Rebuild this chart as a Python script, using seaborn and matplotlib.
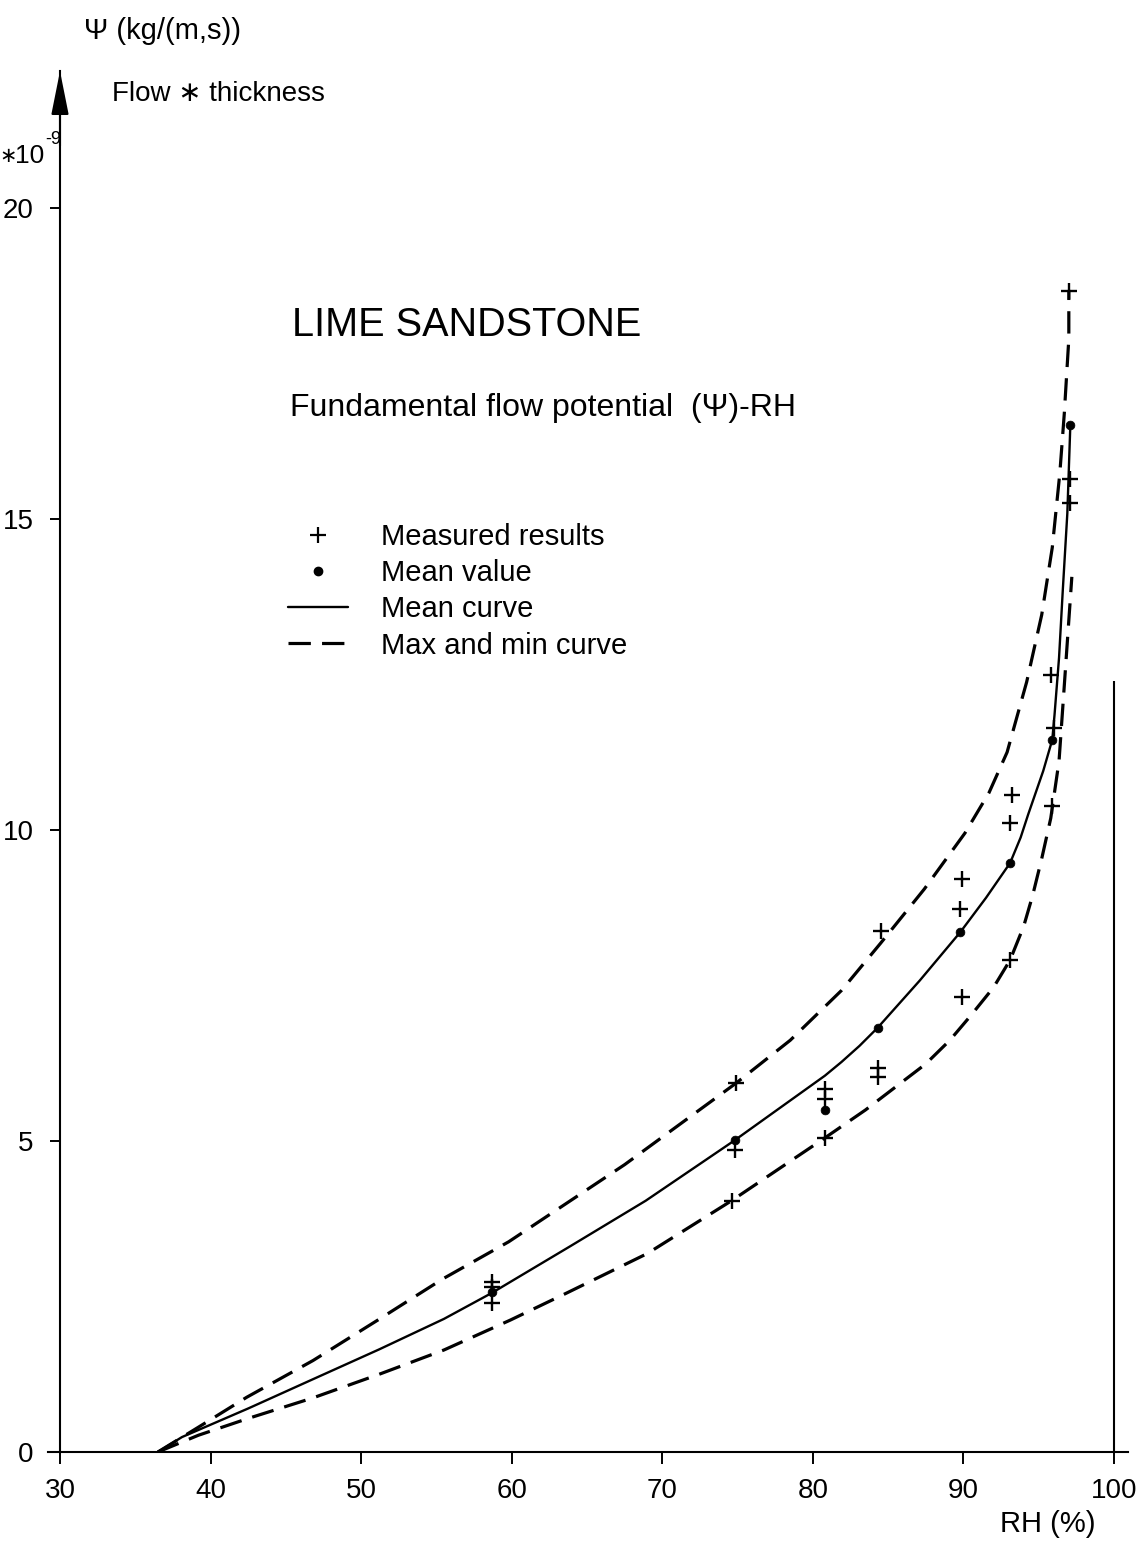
import matplotlib
matplotlib.use("Agg")
import matplotlib.pyplot as plt
import seaborn as sns
from matplotlib.lines import Line2D

# ---------------- data ----------------
measured_rh = [58.7, 58.7, 58.7, 74.9, 74.8, 74.6, 80.8, 80.8, 80.8,
               84.5, 84.3, 84.3, 89.9, 89.8, 89.9, 93.2, 93.1, 93.1,
               95.8, 96.0, 95.9, 97.0, 97.1, 97.1]
measured_psi = [2.74, 2.66, 2.40, 5.93, 4.85, 4.04, 5.83, 5.67, 5.05,
                8.38, 6.17, 6.03, 9.22, 8.73, 7.31, 10.57, 10.12, 7.91,
                12.49, 11.64, 10.38, 18.67, 15.64, 15.26]

mean_rh = [58.7, 74.8, 80.8, 84.3, 89.8, 93.1, 95.9, 97.1]
mean_psi = [2.57, 5.01, 5.50, 6.82, 8.36, 9.47, 11.45, 16.51]

mean_curve_rh = [36.5, 38.1, 42.5, 46.8, 51.2, 55.5, 58.7, 63.9, 68.9, 74.8,
                 80.8, 81.9, 83.1, 84.3, 87.1, 89.8, 91.5, 93.1, 93.8, 94.3,
                 95.3, 95.9, 96.05, 96.35, 96.6, 96.9, 97.1]
mean_curve_psi = [0.0, 0.24, 0.70, 1.17, 1.65, 2.14, 2.56, 3.31, 4.04, 5.01,
                  6.05, 6.27, 6.53, 6.82, 7.58, 8.36, 8.91, 9.47, 9.88, 10.25,
                  10.95, 11.45, 11.85, 12.77, 13.86, 15.09, 16.51]

max_curve_rh = [36.5, 39.2, 42.4, 46.8, 51.1, 55.4, 59.8, 67.5, 74.9, 78.5,
                81.9, 84.5, 87.4, 90.1, 91.7, 92.9, 94.2, 95.2, 95.9, 96.4,
                96.7, 97.0, 97.0]
max_curve_psi = [0.0, 0.40, 0.88, 1.47, 2.12, 2.78, 3.38, 4.62, 5.93, 6.62,
                 7.42, 8.18, 9.05, 9.95, 10.60, 11.25, 12.38, 13.46, 14.54, 15.73,
                 16.70, 17.90, 18.67]

min_curve_rh = [36.5, 39.2, 42.5, 46.8, 51.2, 55.5, 59.9, 63.6, 69.0, 74.6,
                80.8, 83.5, 87.5, 89.1, 90.5, 92.0, 93.1, 94.0, 94.6, 95.2,
                95.8, 96.35, 96.75, 97.2]
min_curve_psi = [0.0, 0.27, 0.54, 0.87, 1.25, 1.64, 2.12, 2.55, 3.19, 4.04,
                 5.05, 5.50, 6.24, 6.62, 7.02, 7.47, 7.91, 8.45, 8.95, 9.54,
                 10.19, 11.11, 12.50, 14.07]

x_ticks = [30, 40, 50, 60, 70, 80, 90, 100]
y_ticks = [0, 5, 10, 15, 20]

legend_labels = ["Measured results", "Mean value", "Mean curve", "Max and min curve"]

# ---------------- styling ----------------
sns.set_theme(style="white")
ISO = ["Liberation Sans", "DejaVu Sans"]
plt.rcParams["font.family"] = ISO
plt.rcParams["axes.unicode_minus"] = False
plt.rcParams["text.color"] = "black"
plt.rcParams["xtick.color"] = "black"
plt.rcParams["ytick.color"] = "black"

W, H = 1141, 1541
fig = plt.figure(figsize=(W / 100, H / 100), dpi=100)

# pixel mapping of the axes: x=30 -> 60 px, x=100 -> 1114 px ; y=0 -> 1452 px, 62.2 px/unit
X30, X100 = 60, 1114
sx = (X100 - X30) / 70.0
sy = 62.2
xlim = (29.2, 100.9)
ylim = (0.0, 22.2)
left_px = X30 + (xlim[0] - 30) * sx
right_px = X30 + (xlim[1] - 30) * sx
bottom_px = 1452
top_px = bottom_px - ylim[1] * sy
ax = fig.add_axes([left_px / W, (H - bottom_px) / H,
                   (right_px - left_px) / W, (bottom_px - top_px) / H])
ax.set_xlim(*xlim)
ax.set_ylim(*ylim)


def px_to_x(p):
    return 30 + (p - X30) / sx


def py_to_y(p):
    return (bottom_px - p) / sy


DASH = (0, (7, 3.5))
sns.lineplot(x=max_curve_rh, y=max_curve_psi, sort=False, estimator=None,
             color="black", lw=2.3, linestyle=DASH, ax=ax)
sns.lineplot(x=min_curve_rh, y=min_curve_psi, sort=False, estimator=None,
             color="black", lw=2.3, linestyle=DASH, ax=ax)
sns.lineplot(x=mean_curve_rh, y=mean_curve_psi, sort=False, estimator=None,
             color="black", lw=1.7, ax=ax)
sns.scatterplot(x=measured_rh, y=measured_psi, marker="+", s=120,
                linewidth=1.7, color="black", ax=ax, zorder=4)
sns.scatterplot(x=mean_rh, y=mean_psi, marker="o", s=40,
                color="black", edgecolor="black", ax=ax, zorder=5)

# right-hand vertical line at RH = 100
ax.vlines(100, 0, 12.4, color="black", lw=1.5)

# axes
for s in ["top", "right"]:
    ax.spines[s].set_visible(False)
ax.spines["left"].set_position(("data", 30))
for s in ["left", "bottom"]:
    ax.spines[s].set_linewidth(1.5)
    ax.spines[s].set_color("black")
ax.set_xticks(x_ticks)
ax.set_yticks(y_ticks)
ax.set_xticklabels([str(v) for v in x_ticks])
ax.set_yticklabels([str(v) for v in y_ticks])
ax.tick_params(axis="x", direction="out", length=8.5, width=1.4, pad=10,
               labelsize=20, colors="black", bottom=True)
ax.tick_params(axis="y", direction="out", length=7, width=1.4, pad=12,
               labelsize=20, colors="black", left=True)
ax.set_xlabel("")
ax.set_ylabel("")
ax.grid(False)

# arrow on top of y axis
ax.annotate("", xy=(30, ylim[1]), xycoords="data", xytext=(30, ylim[1] - 1.2),
            arrowprops=dict(arrowstyle="-|>,head_length=1.35,head_width=0.27",
                            mutation_scale=20, color="black", lw=1.5,
                            shrinkA=0, shrinkB=0), annotation_clip=False)

# axis texts
ax.text(px_to_x(84), py_to_y(31), "Ψ (kg/(m,s))", ha="left", va="center",
        fontsize=21, family=ISO, clip_on=False)
ax.text(px_to_x(112), py_to_y(94), "Flow ∗ thickness", ha="left", va="center",
        fontsize=20, family=ISO, clip_on=False)
ax.text(px_to_x(8), py_to_y(156), "∗", ha="center", va="center", fontsize=15,
        family=["DejaVu Sans"], clip_on=False)
ax.text(px_to_x(15), py_to_y(156), "10", ha="left", va="center", fontsize=19,
        family=ISO, clip_on=False)
ax.text(px_to_x(45), py_to_y(139), "-9", ha="left", va="center", fontsize=13,
        family=ISO, clip_on=False)
ax.text(px_to_x(1048), py_to_y(1524), "RH (%)", ha="center", va="center",
        fontsize=21, family=ISO, clip_on=False)

# titles
ax.text(px_to_x(292), py_to_y(325), "LIME SANDSTONE", ha="left", va="center",
        fontsize=28.5, family=["Liberation Sans", "DejaVu Sans"])
ax.text(px_to_x(290), py_to_y(408), "Fundamental flow potential  (Ψ)-RH",
        ha="left", va="center", fontsize=23,
        family=["Liberation Sans", "DejaVu Sans"])

# legend
handles = [
    Line2D([], [], marker="+", ls="none", color="black", ms=11, mew=1.6),
    Line2D([], [], marker="o", ls="none", color="black", ms=6),
    Line2D([], [], color="black", lw=1.7),
    Line2D([], [], color="black", lw=2.3, ls=DASH),
]
leg_fs = 21
em = leg_fs * 100 / 72
fig.legend(handles, legend_labels, loc="upper left",
           bbox_to_anchor=(288 / W, 1 - 523 / H), frameon=False,
           handlelength=60 / em, handletextpad=33 / em, labelspacing=0.28,
           borderpad=0, borderaxespad=0, numpoints=1,
           prop={"family": ISO, "size": leg_fs})

fig.savefig("out.png", dpi=100, facecolor="white")
